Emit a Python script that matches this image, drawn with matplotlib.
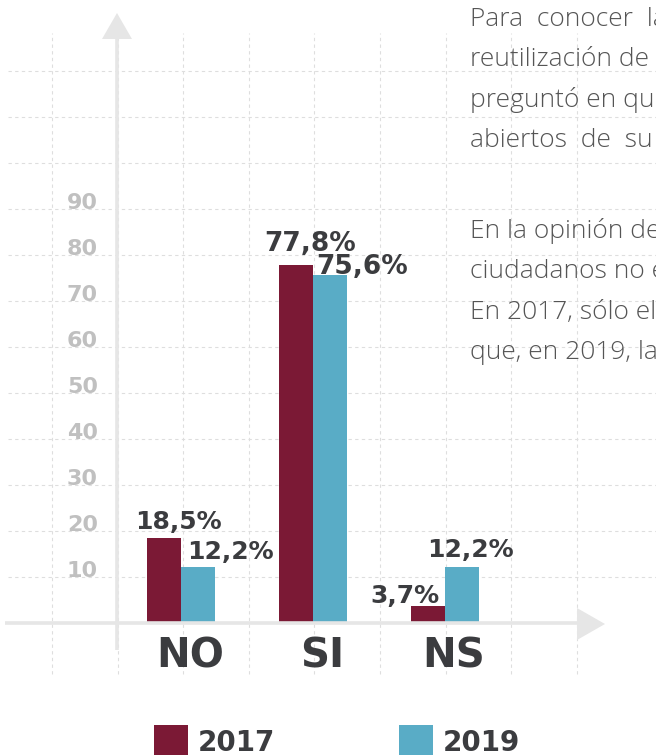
import matplotlib
matplotlib.use('Agg')
import matplotlib.pyplot as plt
from matplotlib.patches import Polygon, Rectangle
import numpy as np

# ---------------- data ----------------
categories = ['NO', 'SI', 'NS']
series_names = ['2017', '2019']
values_2017 = [18.5, 77.8, 3.7]
values_2019 = [12.2, 75.6, 12.2]
labels_2017 = ['18,5%', '77,8%', '3,7%']
labels_2019 = ['12,2%', '75,6%', '12,2%']
ytick_values = [10, 20, 30, 40, 50, 60, 70, 80, 90]
grid_values = [10, 20, 30, 40, 50, 60, 70, 80, 90, 100, 110, 120]
paragraph1 = ['Para  conocer  la  percepción',
              'reutilización de los datos',
              'preguntó en qué medida',
              'abiertos  de  su  país']
paragraph2 = ['En la opinión de los',
              'ciudadanos no existe',
              'En 2017, sólo el',
              'que, en 2019, la']

# ---------------- style ----------------
C17 = '#7b1935'
C19 = '#59acc6'
DARK = '#3b3c3f'
TICKC = '#c0c0c0'
GRIDC = '#dedede'
AXC = '#e6e6e6'
TEXTC = '#555555'

W, H = 656, 755
fig = plt.figure(figsize=(W / 100, H / 100), dpi=100)
ax = fig.add_axes([0, 0, 1, 1])
X0, XS = 181, 132      # pixel of first category, pixels per category
Y0, YS = 623, 4.6      # pixel of zero, pixels per unit
ax.set_xlim(-X0 / XS, (W - X0) / XS)
ax.set_ylim(-(H - Y0) / YS, Y0 / YS)
ax.axis('off')


def xd(px):
    return (px - X0) / XS


def yd(py):
    return (Y0 - py) / YS


# grid
ax.hlines(grid_values, xd(8), xd(W), colors=GRIDC, linestyles=(0, (3, 3)),
          linewidth=0.8, zorder=0)
vx = [52 + 65.6 * k for k in range(9)]
ax.vlines([xd(v) for v in vx], yd(674), yd(33), colors=GRIDC,
          linestyles=(0, (3, 3)), linewidth=0.8, zorder=0)

# axes lines + arrows
ax.plot([xd(117), xd(117)], [yd(650), yd(38)], color=AXC, lw=2.6,
        solid_capstyle='butt', zorder=1)
ax.add_patch(Polygon([(xd(117), yd(13)), (xd(102), yd(39)), (xd(132), yd(39))],
                     closed=True, color=AXC, lw=0, zorder=1))
ax.plot([xd(5), xd(578)], [0, 0], color=AXC, lw=2.6, solid_capstyle='butt', zorder=3)
ax.add_patch(Polygon([(xd(605), yd(624)), (xd(577), yd(608)), (xd(577), yd(640))],
                     closed=True, color=AXC, lw=0, zorder=1))

# bars
x = np.arange(len(categories))
bw = 34 / XS
ax.bar(x - bw / 2, values_2017, bw, color=C17, zorder=2)
ax.bar(x + bw / 2, values_2019, bw, color=C19, zorder=2)

# value labels (offsets in pixels)
off17 = [(14, 9, 18), (14, 14, 19), (-23, 3, 18)]
off19 = [(32, 8, 18), (32, 1, 19), (8, 10, 18)]
for i in range(len(categories)):
    dx, dy, fs = off17[i]
    ax.annotate(labels_2017[i], (x[i] - bw / 2, values_2017[i]), xytext=(dx, dy),
                textcoords='offset pixels', ha='center', va='baseline',
                fontsize=fs, fontweight='bold', color=DARK, zorder=5)
    dx, dy, fs = off19[i]
    ax.annotate(labels_2019[i], (x[i] + bw / 2, values_2019[i]), xytext=(dx, dy),
                textcoords='offset pixels', ha='center', va='baseline',
                fontsize=fs, fontweight='bold', color=DARK, zorder=5)

# category labels
for i, c in enumerate(categories):
    ax.annotate(c, (x[i], 0), xytext=(9, -45), textcoords='offset pixels',
                ha='center', va='baseline', fontsize=29, fontweight='bold',
                color=DARK)

# y tick labels
for v in ytick_values:
    ax.text(xd(98), v, str(v), ha='right', va='baseline', fontsize=16,
            fontweight='bold', color=TICKC)

# legend
leg = [(154, C17), (399, C19)]
for (lx, col), name in zip(leg, series_names):
    ax.add_patch(Rectangle((xd(lx), yd(762)), 34 / XS, 37 / YS, color=col, lw=0))
    ax.text(xd(lx + 44), yd(751), name, ha='left', va='baseline', fontsize=20,
            fontweight='bold', color=DARK)

# paragraph text (clipped by the figure edge)
base1 = [26, 66, 107, 147]
base2 = [238, 278, 319, 359]
for line, b in zip(paragraph1 + paragraph2, base1 + base2):
    ax.text(xd(470), yd(b), line, ha='left', va='baseline', fontsize=19,
            family='Open Sans', fontweight='light', color=TEXTC, clip_on=False)

fig.savefig('out.png', dpi=100)
